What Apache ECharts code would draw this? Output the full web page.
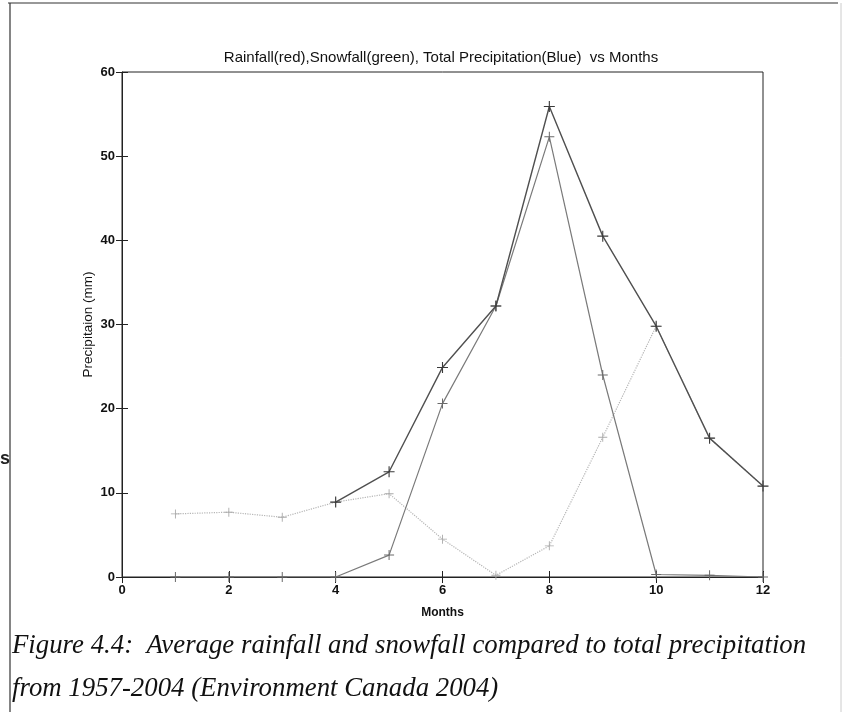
<!DOCTYPE html>
<html>
<head>
<meta charset="utf-8">
<script src="https://cdn.jsdelivr.net/npm/echarts@6/dist/echarts.min.js"></script>
<style>html,body{margin:0;padding:0;background:#fff}#c{width:844px;height:712px}</style>
</head>
<body>
<div id="c"></div>
<script>
const months = [1,2,3,4,5,6,7,8,9,10,11,12];
const rainfall = [0,0,0,0,2.6,20.6,32.2,52.3,24.0,0.3,0.2,0];
const snowfall = [7.5,7.7,7.1,8.9,9.9,4.5,0.2,3.7,16.6,29.8,16.5,10.8];
const total = [null,null,null,8.9,12.5,24.9,32.2,55.9,40.5,29.8,16.5,10.8];
const xTicks = [0,2,4,6,8,10,12];
const yTicks = [0,10,20,30,40,50,60];

const plus = 'path://M4.5,0H5.5V4.5H10V5.5H5.5V10H4.5V5.5H0V4.5H4.5Z';
const pair = (ys) => months.map((m,i)=>[m, ys[i]]);
const chart = echarts.init(document.getElementById('c'));
const axFont = {fontFamily:'Liberation Sans', fontSize:13, fontWeight:'bold', color:'#111'};
chart.setOption({
  backgroundColor:'#fff',
  animation:false,
  title:{text:'Rainfall(red),Snowfall(green), Total Precipitation(Blue)  vs Months', left:436, top:45, textAlign:'center',
    textStyle:{fontFamily:'Liberation Sans', fontSize:15, fontWeight:'normal', color:'#111'}},
  grid:{left:122, right:81, top:72, bottom:135, show:true, borderColor:'#222', borderWidth:1},
  xAxis:[{type:'value', min:0, max:12, interval:2, position:'bottom',
    name:'Months', nameLocation:'middle', nameGap:30, nameTextStyle:{fontFamily:'Liberation Sans', fontSize:12, fontWeight:'bold', color:'#111'},
    axisLine:{show:true, lineStyle:{color:'#222'}}, axisTick:{inside:true, length:6, lineStyle:{color:'#222'}},
    axisLabel:Object.assign({margin:7, formatter:v=>xTicks.includes(v)?String(v):''}, axFont), splitLine:{show:false}},
   {type:'value', min:0, max:12, interval:2, position:'top',
    axisLine:{show:false}, axisTick:{inside:true, length:6, lineStyle:{color:'#222'}}, axisLabel:{show:false}, splitLine:{show:false}}],
  yAxis:[{type:'value', min:0, max:60, interval:10, position:'left',
    name:'Precipitaion (mm)', nameLocation:'middle', nameGap:27, nameRotate:90, nameMoveOverlap:false,
    nameTextStyle:{fontFamily:'Liberation Sans', fontSize:13.5, fontWeight:'normal', color:'#111'},
    axisLine:{show:true, lineStyle:{color:'#222'}}, axisTick:{inside:true, length:6, lineStyle:{color:'#222'}},
    axisLabel:Object.assign({margin:7, formatter:v=>yTicks.includes(v)?String(v):''}, axFont), splitLine:{show:false}},
   {type:'value', min:0, max:60, interval:10, position:'right',
    axisLine:{show:false}, axisTick:{inside:true, length:6, lineStyle:{color:'#222'}}, axisLabel:{show:false}, splitLine:{show:false}}],
  series:[
    {name:'Snowfall', type:'line', data:pair(snowfall), symbol:plus, symbolSize:9, showAllSymbol:true,
      lineStyle:{color:'#b5b5b5', width:1.2, type:'dotted'}, itemStyle:{color:'#aaaaaa'}, z:2},
    {name:'Rainfall', type:'line', data:pair(rainfall), symbol:plus, symbolSize:10,
      lineStyle:{color:'#7a7a7a', width:1.2}, itemStyle:{color:'#6a6a6a'}, z:3},
    {name:'Total', type:'line', data:pair(total), symbol:plus, symbolSize:11, connectNulls:false,
      lineStyle:{color:'#505050', width:1.4}, itemStyle:{color:'#3a3a3a'}, z:4}
  ],
  graphic:[
    {type:'line', shape:{x1:8,y1:3,x2:838,y2:3}, style:{stroke:'#333', lineWidth:1.2}},
    {type:'line', shape:{x1:10,y1:3,x2:10,y2:712}, style:{stroke:'#333', lineWidth:1.2}},
    {type:'line', shape:{x1:841,y1:3,x2:841,y2:712}, style:{stroke:'#ccc', lineWidth:1}},
    {type:'text', left:0, top:450, style:{text:'s', font:'bold 18px Liberation Sans', fill:'#222'}},
    {type:'text', left:12, top:632, style:{text:'Figure 4.4:  Average rainfall and snowfall compared to total precipitation', font:'italic 26.8px Liberation Serif', fill:'#111'}},
    {type:'text', left:12, top:675, style:{text:'from 1957-2004 (Environment Canada 2004)', font:'italic 26.8px Liberation Serif', fill:'#111'}}
  ]
});
</script>
</body>
</html>
